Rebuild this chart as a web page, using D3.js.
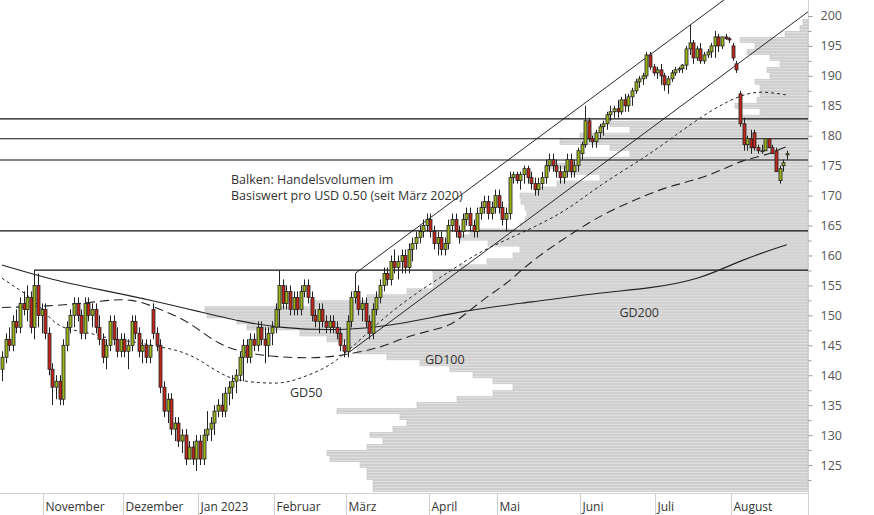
<!DOCTYPE html>
<html lang="de">
<head>
<meta charset="utf-8">
<title>Kurschart</title>
<script src="https://cdn.jsdelivr.net/npm/d3@7"></script>
<style>
  body { margin: 0; background: #fff; }
  svg text { font-family: "Open Sans", "Noto Sans", sans-serif; }
</style>
</head>
<body>
<svg></svg>
<script>
// month labels and number of trading days per month (first segment = end of October)
const months = ['', 'November', 'Dezember', 'Jan 2023', 'Februar', 'März', 'April', 'Mai', 'Juni', 'Juli', 'August'];
const monthDays = [12, 22, 21, 21, 20, 23, 19, 23, 21, 21, 16];

// daily candles: open, high, low, close
const candles = [
  [141,144,139,143],[143,147,142,146],[146,148,144,145],[145,150,144,149],[149,151,147,148],[148,153,147,152],
  [152,154,150,151],[151,155,149,153],[153,154,147,148],[148,157.6,146,155],[155,157,148,150],[150,152,147,151],
  [151,152,146,147],[147,148,140,141],[141,142,135,138],[138,140,136,139],[139,140,135,136],[136,146,135,145],
  [145,149,144,148],[148,151,147,150],[150,153,148,152],[152,153,149,150],[150,151,146,147],[147,153,146,152],
  [152,153,149,150],[150,152,148,151],[151,152,147,148],[148,150,145,146],[146,147,142,143],[143,146,141,145],
  [145,150,144,149],[149,150,145,146],[146,148,143,144],[144,147,143,146],
  [146,147,143,144],[144,146,141,145],[145,150,144,149],[149,150,146,147],[147,148,143,144],[144,146,142,145],
  [145,146,142,143],[143,146,142,145],[151,152,146,147],[147,148,144,145],[145,146,137,138],[138,139,133,134],
  [134,137,132,136],[136,137,130,131],[131,133,129,132],[132,133,128,129],[129,131,127,130],[130,131,125,126],
  [126,129,126,128],[128,129,125,126],[126,130,124,129],
  [129,130,125,126],[126,131,125,130],[130,134,129,131],[131,133,129,132],[132,135,130,134],[134,136,133,135],
  [135,137,133,134],[134,138,133,137],[137,139,135,138],[138,140,136,139],[139,141,137,140],[140,144,139,143],
  [143,146,139,145],[145,146,142,143],[143,147,142,146],[146,147,144,145],[145,149,144,148],[148,149,145,146],
  [146,148,142,145],[145,148,143,147],[147,149,145,148],
  [148,152,147,151],[151,157.5,148,155],[155,156,151,152],[152,155,151,154],[154,155,150,151],[151,154,150,153],
  [153,154,150,151],[151,155,150,154],[154,156,153,155],[155,156,152,153],[153,154,149,150],[150,151,148,149],
  [149,152,147,151],[151,152,148,149],[149,150,147,148],[148,150,147,149],[149,150,147,148],[148,149,146,147],
  [147,148,144,145],[145,146,143,144],
  [144,150,143,149],[149,154,148,153],[153,157,152,154],[154,155,150,151],[151,153,149,152],[152,153,148,149],
  [149,150,146,147],[147,152,146,151],[151,154,150,153],[153,156,152,155],[155,158,154,157],[157,158,155,156],
  [156,160,155,159],[159,161,157,158],[158,160,156,159],[159,161,157,160],[160,161,157,158],[158,162,157,161],
  [161,163,159,162],[162,164,161,163],[163,165,162,164],[164,166,163,165],[165,167,164,166],
  [166,167,163,164],[164,165,161,162],[162,164,160,163],[163,164,160,161],[161,163,160,162],[162,166,161,165],
  [165,167,164,166],[166,167,163,164],[164,165,162,163],[164,167,163,166],[166,168,165,167],[167,168,164,165],
  [165,166,163,164],[164,168,163,167],[167,169,166,168],[168,170,167,169],[169,170,166,167],[167,169,166,168],
  [168,171,167,170],
  [170,171,167,168],[168,169,165,166],[166,168,164,167],[167,174,166,173],[173,174,172,173.5],[173.5,174,172,172.5],
  [172.5,174,171,173.5],[173.5,175,172,174.5],[174.5,175,172,173],[173,174,171,172],[172,173,170,171],[171,173,170,172],
  [172,174,171,173],[173,176,172,175],[175,177,174,176],[176,177,174,175],[175,176,173,174],[174,175,172,173],
  [173,175,172,174],[174,177,173,176],[176,177,173,174],[174,176,173,175],[175,178,174,177.5],
  [177,179,176,178.5],[178.5,185,178,182.5],[182.5,183,179,179.5],[179.5,180,178,179],[179,181,178,180.5],
  [180.5,182,179.5,181.5],[181.5,182.5,180,182],[182,184,181,183.5],[183.5,185,182.5,184],[184,185,183,184.5],
  [184.5,186,183,184],[184,186.5,183.5,186],[186,187,184,185],[185,187,184,186.5],[186.5,188,185,187.5],
  [187.5,189.5,187,189],[189,190,188,189.5],[189.5,190.5,188.5,190],[190,194,189.5,193.5],[193.5,194,191,191.5],
  [191.5,192,190,190.5],
  [190.5,191.5,189.5,191],[191,192,188.5,190],[190,190.5,187.5,188.5],[188.5,190,187,189.5],[189.5,191,189,190.5],
  [190.5,191.5,190,191],[191,191.5,190.5,191.2],[191.2,192,190.5,191.8],[191.8,195,191,194.5],[194.5,198.5,193.5,195.5],
  [195.5,196,192,193],[193,195,192.5,194.5],[194.5,195.5,192,192.5],[192.5,194,192,193.5],[193.5,194.5,193,194],
  [194,195.5,193,195],[195,197.5,193,196.5],[196.5,197,194,195],[195,196.5,194.5,196.5],[196.5,197,196,196.2],
  [196.2,196.5,195.5,196],
  [195,195.5,192.5,193],[192,192.5,190.5,191],[187,187.5,181.5,182],[182,183,177.5,178.5],[178.5,180,177.5,179.5],
  [179.5,181,177,178],[180.5,181,177.5,178],[178,178.5,177,177.5],[177.5,178.5,177,177.5],[177.5,179.5,177.5,179.5],
  [179.5,179.5,178,178],[178,178.5,177,177],[177.5,178,174,174],[172.5,175,172,174.5],[175,176,174,175.5],
  [176.8,177.5,176,177]
];

// moving averages, sampled as [day index, value]
const gd50 = [[0,156.2],[5,154.2],[9,152.6],[14,148.9],[18,147.6],[24,147.2],[30,146],[37,145.6],[42,144.9],[49,144.2],
  [54,142.9],[59,140.9],[64,139.2],[72,138.7],[78,138.6],[83,139.5],[90,141.2],[94,143],[100,146.2],[107,150.1],
  [115,153.7],[124,157.2],[132,160.4],[140,162.6],[156,167],[165,171.4],[179,176.5],[188,180.5],[197,184.3],[206,187.1],
  [212,187.4],[218,186.8]];
const gd100 = [[0,151.3],[16,151.6],[28,152.4],[36,152.9],[44,151],[52,149],[60,145],[69,143.5],[80,142.9],[89,142.9],
  [95,143.4],[105,144.5],[111,146.2],[120,147.6],[125,148.4],[129,150.4],[136,153.7],[141,155.6],[147,159.2],
  [165,166.4],[174,168.8],[184,171.4],[193,172.6],[202,174.8],[206,176],[211,176.5],[218,178.2]];
const gd200 = [[0,158.4],[14,155.9],[28,154.2],[41,152.6],[55,150.6],[66,149],[77,147.9],[94,147.4],[110,148.4],
  [129,150.9],[147,152.2],[166,153.8],[180,154.5],[194,156],[205,159.2],[218,161.8]];

// volume profile per 1 USD price level (from 121 to 199)
const profilePrices = d3.range(121, 200);
const profileVol = [435,435,441,441,448,478,481,441,425,438,415,401,408,471,391,351,315,295,315,335,358,388,
  421,451,461,481,508,561,571,601,603,498,441,401,375,375,375,348,321,295,288,320,348,338,288,283,
  281,283,287,288,273,251,208,238,258,228,178,198,248,228,178,198,68,48,73,51,48,48,53,38,
  41,28,38,61,53,68,23,8,5];

const levels = [182.8, 179.5, 175.95, 164.1];
const resistance = {from: 9, price: 157.55};
const channel = {i0: 96.1, p0: 143.7, i1: 223.9, p1: 200.7, offset: 12.4};
const yTicks = d3.range(125, 201, 5);
const maLabels = [['GD50', 84.5, 137.0], ['GD100', 123, 142.5], ['GD200', 177, 150.3]];

const W = 874, H = 515, plotR = 808, axisY = 493;
const svg = d3.select('svg').attr('width', W).attr('height', H);

const x = d3.scaleLinear().domain([0, 1]).range([2, 5.6]);
const y = d3.scaleLinear().domain([120.33, 202.67]).range([axisY, 0]);
const vx = d3.scaleLinear().domain([0, 1]).range([plotR, plotR - 1]);

svg.append('defs').append('clipPath').attr('id', 'plot')
  .append('rect').attr('x', 0).attr('y', 0).attr('width', plotR).attr('height', axisY);
const g = svg.append('g').attr('clip-path', 'url(#plot)');

// volume profile: two half-dollar stripes per level
profilePrices.forEach((p, k) => {
  [p - 0.5, p].forEach(lo => {
    g.append('rect')
      .attr('x', vx(profileVol[k])).attr('y', y(lo + 0.5) + 0.4)
      .attr('width', plotR - vx(profileVol[k])).attr('height', y(lo) - y(lo + 0.5) - 0.8)
      .attr('fill', '#dedede').attr('stroke', '#bcbcbc').attr('stroke-width', 0.6);
  });
});

// horizontal levels
levels.forEach(p => g.append('line').attr('x1', 0).attr('x2', plotR).attr('y1', y(p)).attr('y2', y(p))
  .attr('stroke', '#111').attr('stroke-width', 1.2));
g.append('line').attr('x1', x(resistance.from)).attr('x2', plotR)
  .attr('y1', y(resistance.price)).attr('y2', y(resistance.price)).attr('stroke', '#111').attr('stroke-width', 1.2);

// trend channel
const slope = (channel.p1 - channel.p0) / (channel.i1 - channel.i0);
g.append('line').attr('x1', x(channel.i0)).attr('y1', y(channel.p0))
  .attr('x2', x(channel.i1)).attr('y2', y(channel.p1)).attr('stroke', '#111').attr('stroke-width', 0.9);
const ui0 = channel.i0 + 2.2;
g.append('line').attr('x1', x(ui0)).attr('y1', y(channel.p0 + slope * 2.2 + channel.offset))
  .attr('x2', x(channel.i1)).attr('y2', y(channel.p1 + channel.offset)).attr('stroke', '#111').attr('stroke-width', 0.9);
g.append('line').attr('x1', x(ui0)).attr('x2', x(ui0))
  .attr('y1', y(channel.p0 + slope * 2.2 + channel.offset)).attr('y2', y(candles[98][1]))
  .attr('stroke', '#111').attr('stroke-width', 0.9);

// moving averages
const line = d3.line().x(d => x(d[0])).y(d => y(d[1])).curve(d3.curveBasis);
g.append('path').datum(gd200).attr('d', line).attr('fill', 'none').attr('stroke', '#222').attr('stroke-width', 1.1);
g.append('path').datum(gd100).attr('d', line).attr('fill', 'none').attr('stroke', '#222')
  .attr('stroke-width', 1.1).attr('stroke-dasharray', '9,5');
g.append('path').datum(gd50).attr('d', line).attr('fill', 'none').attr('stroke', '#222')
  .attr('stroke-width', 1).attr('stroke-dasharray', '3,3');

// candles
const cg = g.append('g');
candles.forEach((c, i) => {
  const [o, h, l, cl] = c;
  const cx = Math.round(x(i)) + 0.5;
  cg.append('line').attr('x1', cx).attr('x2', cx).attr('y1', y(h)).attr('y2', y(l))
    .attr('stroke', '#222').attr('stroke-width', 1);
  const top = y(Math.max(o, cl)), bot = y(Math.min(o, cl));
  cg.append('rect').attr('x', cx - 1.5).attr('y', top).attr('width', 3).attr('height', Math.max(bot - top, 1))
    .attr('fill', cl >= o ? '#9ab31c' : '#c0281e').attr('stroke', '#222').attr('stroke-width', 0.8);
});

// labels
maLabels.forEach(([t, i, p]) => svg.append('text').attr('x', x(i)).attr('y', y(p))
  .attr('font-size', 12.5).attr('fill', '#333').attr('text-anchor', 'middle').attr('dominant-baseline', 'middle').text(t));
svg.append('text').attr('x', 231).attr('y', 184).attr('font-size', 12.5).attr('fill', '#333').text('Balken: Handelsvolumen im');
svg.append('text').attr('x', 231).attr('y', 200).attr('font-size', 12.5).attr('fill', '#333').text('Basiswert pro USD 0.50 (seit März 2020)');

// right axis
svg.append('line').attr('x1', plotR + 0.5).attr('x2', plotR + 0.5).attr('y1', 0).attr('y2', H).attr('stroke', '#d0d0d0');
const yAxis = svg.append('g').attr('transform', `translate(${plotR + 0.5},0)`)
  .call(d3.axisRight(y).tickValues(yTicks).tickSize(4).tickPadding(8));
yAxis.select('.domain').remove();
yAxis.selectAll('line').attr('stroke', '#999');
yAxis.selectAll('text').attr('font-size', 12.5).attr('fill', '#555').attr('font-family', '"Open Sans", sans-serif');
svg.append('g').attr('transform', `translate(${plotR + 0.5},0)`)
  .call(d3.axisRight(y).tickValues(d3.range(122.5, 201, 5)).tickSize(3).tickFormat(''))
  .call(a => a.select('.domain').remove()).selectAll('line').attr('stroke', '#999');

// bottom axis with month separators
svg.append('line').attr('x1', 0).attr('x2', plotR).attr('y1', axisY + 0.5).attr('y2', axisY + 0.5).attr('stroke', '#cfcfcf');
let start = 0;
monthDays.forEach((n, k) => {
  if (k > 0) {
    const mx = Math.round(x(start - 0.5)) + 0.5;
    svg.append('line').attr('x1', mx).attr('x2', mx).attr('y1', axisY).attr('y2', H).attr('stroke', '#cfcfcf');
    svg.append('text').attr('x', mx + 2).attr('y', 511).attr('font-size', 12).attr('fill', '#333').text(months[k]);
  }
  start += n;
});
</script>
</body>
</html>
